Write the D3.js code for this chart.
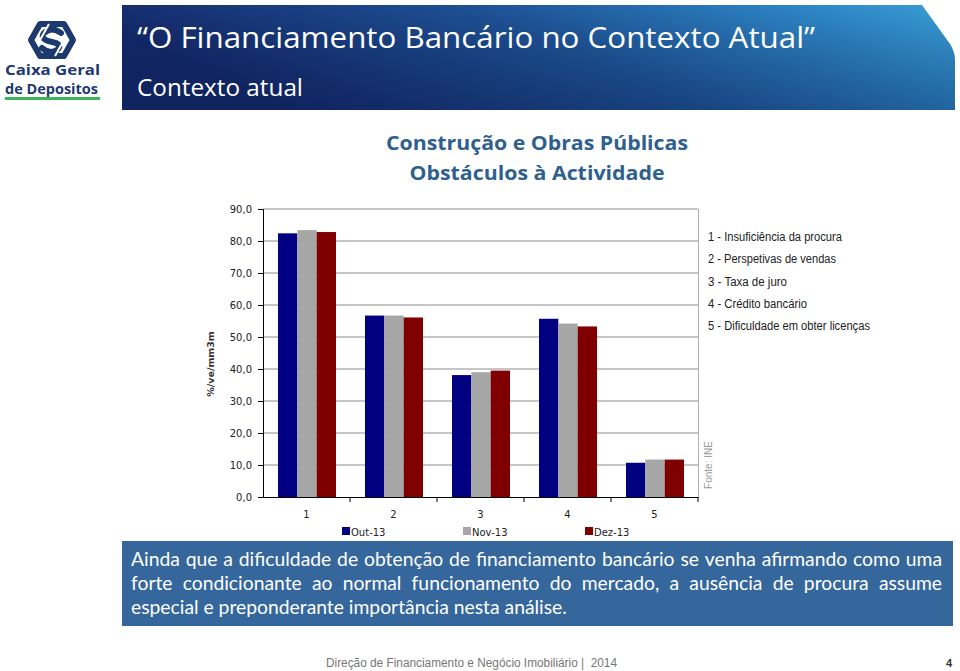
<!DOCTYPE html>
<html><head><meta charset="utf-8">
<script src="https://cdn.jsdelivr.net/npm/d3@7"></script>
<style>html,body{margin:0;padding:0;background:#fff;}svg{display:block;}</style>
</head><body>
<svg id="c" width="960" height="671"></svg>
<script>
const categories = ["1","2","3","4","5"];
const seriesNames = ["Out-13","Nov-13","Dez-13"];
const seriesColors = ["#000080","#a6a6a6","#800000"];
const outValues = [82.4, 56.7, 38.1, 55.7, 10.7];
const novValues = [83.4, 56.7, 39.0, 54.2, 11.7];
const dezValues = [82.8, 56.1, 39.5, 53.3, 11.7];
const yTicks = [0,10,20,30,40,50,60,70,80,90];
const legendItems = ["1 - Insuficiência da procura","2 - Perspetivas de vendas","3 - Taxa de juro","4 - Crédito bancário","5 - Dificuldade em obter licenças"];
const legendWidths = [134,128,79,99,162];
const bodyLines = ["Ainda que a dificuldade de obtenção de financiamento bancário se venha afirmando como uma",
 "forte condicionante ao normal funcionamento do mercado, a ausência de procura assume",
 "especial e preponderante importância nesta análise."];

const svg = d3.select("#c");
const defs = svg.append("defs");
const g1 = defs.append("linearGradient").attr("id","ban").attr("x1","0").attr("y1","0.3").attr("x2","1").attr("y2","0");
g1.append("stop").attr("offset","0%").attr("stop-color","#13286a");
g1.append("stop").attr("offset","45%").attr("stop-color","#1d4f93");
g1.append("stop").attr("offset","80%").attr("stop-color","#2c82c2");
g1.append("stop").attr("offset","100%").attr("stop-color","#3a9fd6");
const g2 = defs.append("linearGradient").attr("id","shade").attr("x1","0").attr("y1","0").attr("x2","0").attr("y2","1");
g2.append("stop").attr("offset","0%").attr("stop-color","#000").attr("stop-opacity",0);
g2.append("stop").attr("offset","100%").attr("stop-color","#001030").attr("stop-opacity",0.18);

// Banner
const banPath = "M122,5 L922,5 L950,44 Q955,52 955,60 L955,110 L122,110 Z";
svg.append("path").attr("d",banPath).attr("fill","url(#ban)");
svg.append("path").attr("d",banPath).attr("fill","url(#shade)");
svg.append("text").attr("x",137).attr("y",48).attr("fill","#fff")
  .attr("font-family","'Open Sans',sans-serif").attr("font-size",30)
  .attr("textLength",678).attr("lengthAdjust","spacingAndGlyphs")
  .text("\u201CO Financiamento Bancário no Contexto Atual\u201D");
svg.append("text").attr("x",137).attr("y",96).attr("fill","#fff")
  .attr("font-family","'Open Sans',sans-serif").attr("font-size",23)
  .attr("textLength",166).attr("lengthAdjust","spacingAndGlyphs")
  .text("Contexto atual");

// Logo
const logo = svg.append("g");
logo.append("path").attr("d","M40,24 L64,24 L73,40 L64,56 L40,56 L31,40 Z")
  .attr("fill","none").attr("stroke","#1d3a6e").attr("stroke-width",6).attr("stroke-linejoin","round");
logo.append("path").attr("d","M61,33 Q52,26 44,33 Q40,38 48,41 L56,43 Q62,46 57,50 Q50,55 42,48")
  .attr("fill","none").attr("stroke","#1d3a6e").attr("stroke-width",6).attr("stroke-linecap","round");
logo.append("path").attr("d","M49,24 L40,40 M55,56 L64,40").attr("stroke","#fff").attr("stroke-width",2);
logo.append("text").attr("x",5).attr("y",75).attr("fill","#1d3a6e").attr("font-family","'Open Sans',sans-serif")
  .attr("font-weight","bold").attr("font-size",13.5).attr("textLength",95).attr("lengthAdjust","spacingAndGlyphs").text("Caixa Geral");
logo.append("text").attr("x",5).attr("y",93.5).attr("fill","#1d3a6e").attr("font-family","'Open Sans',sans-serif")
  .attr("font-weight","bold").attr("font-size",13.5).attr("textLength",93).attr("lengthAdjust","spacingAndGlyphs").text("de Depositos");
logo.append("rect").attr("x",5).attr("y",97).attr("width",95).attr("height",3).attr("fill","#3cb45a");

// Chart title
svg.append("text").attr("x",537).attr("y",150).attr("text-anchor","middle").attr("fill","#2e5f8f")
  .attr("font-family","'Open Sans',sans-serif").attr("font-weight","bold").attr("font-size",20)
  .attr("textLength",302).attr("lengthAdjust","spacingAndGlyphs").text("Construção e Obras Públicas");
svg.append("text").attr("x",537).attr("y",180).attr("text-anchor","middle").attr("fill","#2e5f8f")
  .attr("font-family","'Open Sans',sans-serif").attr("font-weight","bold").attr("font-size",20)
  .attr("textLength",255).attr("lengthAdjust","spacingAndGlyphs").text("Obstáculos à Actividade");

// Chart
const pLeft = 263, pRight = 698, pTop = 209, pBottom = 497;
const x = d3.scaleBand().domain(categories).range([pLeft,pRight]).paddingInner(0).paddingOuter(0);
const xs = d3.scaleBand().domain(seriesNames).range([15, 87-14]).padding(0);
const y = d3.scaleLinear().domain([0,90]).range([pBottom,pTop]);
const values = [outValues, novValues, dezValues];

const grid = svg.append("g");
grid.selectAll("line").data(yTicks.filter(d=>d>0)).join("line")
  .attr("x1",pLeft).attr("x2",pRight).attr("y1",d=>y(d)).attr("y2",d=>y(d))
  .attr("stroke","#8c8c8c").attr("stroke-width",1);
svg.append("line").attr("x1",pRight+0.5).attr("x2",pRight+0.5).attr("y1",pTop).attr("y2",pBottom).attr("stroke","#b0b0b0");

seriesNames.forEach((s,si)=>{
  svg.append("g").selectAll("rect").data(categories).join("rect")
    .attr("x",d=>x(d)+xs(s)).attr("width",xs.bandwidth())
    .attr("y",(d,i)=>y(values[si][i])).attr("height",(d,i)=>y(0)-y(values[si][i]))
    .attr("fill",seriesColors[si]);
});

const yAxis = svg.append("g").attr("transform",`translate(${pLeft},0)`)
  .call(d3.axisLeft(y).tickValues(yTicks).tickSize(5).tickFormat(d=>d3.format(".1f")(d).replace(".",",")));
yAxis.select(".domain").attr("stroke","#000");
yAxis.selectAll("text").attr("font-family","'DejaVu Sans',sans-serif").attr("font-size",10).attr("fill","#222").attr("dx",-3);

const xAxis = svg.append("g").attr("transform",`translate(0,${pBottom})`)
  .call(d3.axisBottom(x).tickSize(0).tickPadding(14));
xAxis.select(".domain").attr("stroke","#000");
xAxis.selectAll("text").attr("font-family","'DejaVu Sans',sans-serif").attr("font-size",10).attr("fill","#222");
svg.append("g").selectAll("line").data(categories.slice(1).concat(["end"])).join("line")
  .attr("x1",(d,i)=>i<4?x(d):pRight).attr("x2",(d,i)=>i<4?x(d):pRight)
  .attr("y1",pBottom).attr("y2",pBottom+5).attr("stroke","#000");

svg.append("text").attr("transform","translate(214,364) rotate(-90)").attr("text-anchor","middle")
  .attr("font-family","'DejaVu Sans',sans-serif").attr("font-weight","bold").attr("font-size",9.5).attr("fill","#333")
  .text("%/ve/mm3m");

// bottom legend
const legX = [342, 463, 585];
seriesNames.forEach((s,i)=>{
  svg.append("rect").attr("x",legX[i]).attr("y",527).attr("width",8).attr("height",8).attr("fill",seriesColors[i]);
  svg.append("text").attr("x",legX[i]+9).attr("y",535.5).attr("font-family","'DejaVu Sans',sans-serif")
    .attr("font-size",10).attr("fill","#222").text(s);
});

// right legend
svg.append("g").selectAll("text").data(legendItems).join("text")
  .attr("x",708).attr("y",(d,i)=>241+i*22.3)
  .attr("font-family","'Liberation Sans Narrow','Liberation Sans',sans-serif").attr("font-size",12).attr("fill","#222")
  .attr("textLength",(d,i)=>legendWidths[i]).attr("lengthAdjust","spacingAndGlyphs").text(d=>d);

svg.append("text").attr("transform","translate(712,465) rotate(-90)").attr("text-anchor","middle")
  .attr("font-family","'Liberation Sans',Arial,sans-serif").attr("font-size",10).attr("fill","#999").text("Fonte: INE");

// text box
svg.append("rect").attr("x",122).attr("y",541).attr("width",831).attr("height",85).attr("fill","#35669c");
const tb = svg.append("g").attr("font-family","Lato,sans-serif").attr("font-size",17.5).attr("fill","#fff");
// size font so that the last (unjustified) line matches the reference width
const probe = tb.append("text").text(bodyLines[2]);
const fs = 17.5 * 436 / probe.node().getComputedTextLength();
probe.remove();
tb.attr("font-size", fs);
const baseY = [566, 590, 614];
bodyLines.forEach((line,li)=>{
  if (li < 2) {
    const words = line.split(" ");
    const nodes = words.map(w=>tb.append("text").attr("y",baseY[li]).text(w));
    const widths = nodes.map(n=>n.node().getComputedTextLength());
    const total = d3.sum(widths);
    const gap = (942-131-total)/(words.length-1);
    let cx = 131;
    nodes.forEach((n,i)=>{ n.attr("x",cx); cx += widths[i]+gap; });
  } else {
    tb.append("text").attr("x",131).attr("y",baseY[li]).text(line);
  }
});

// footer
svg.append("text").attr("x",326).attr("y",667).attr("font-family","'Liberation Sans',Arial,sans-serif").attr("font-size",12)
  .attr("fill","#777").attr("textLength",291).attr("lengthAdjust","spacingAndGlyphs")
  .attr("xml:space","preserve").text("Direção de Financiamento e Negócio Imobiliário |  2014");
svg.append("text").attr("x",946).attr("y",667).attr("font-family","'Liberation Sans',Arial,sans-serif").attr("font-size",11)
  .attr("font-weight","bold").attr("fill","#333").text("4");
</script>
</body></html>
